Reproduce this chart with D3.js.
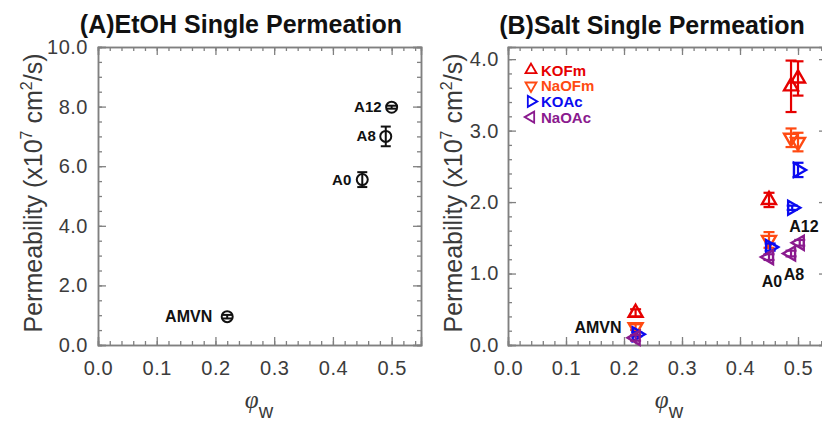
<!DOCTYPE html>
<html>
<head>
<meta charset="utf-8">
<script src="https://cdn.jsdelivr.net/npm/d3@7"></script>
<style>
  html, body { margin: 0; padding: 0; background: #fff; }
  svg { display: block; font-family: "Liberation Sans", Arial, sans-serif; }
</style>
</head>
<body>
<svg id="chart" width="822" height="421"></svg>
<script>
// ---------------- DATA ----------------
// Panel A: EtOH single permeation
const etohLabels = ["AMVN", "A0", "A8", "A12"];
const etohPhi    = [0.22, 0.45, 0.49, 0.50];
const etohPerm   = [0.95, 5.55, 7.00, 7.98];
const etohErr    = [0.06, 0.25, 0.33, 0.05];

// Panel B: Salt single permeation (membranes AMVN, A0, A8, A12)
const saltSeries = ["KOFm", "NaOFm", "KOAc", "NaOAc"];
const kofmPhi  = [0.22, 0.45, 0.488, 0.50];
const kofmPerm = [0.45, 2.03, 3.62, 3.73];
const kofmErr  = [0.05, 0.10, 0.36, 0.24];
const naofmPhi  = [0.22, 0.45, 0.488, 0.50];
const naofmPerm = [0.25, 1.47, 2.90, 2.84];
const naofmErr  = [0.04, 0.11, 0.13, 0.13];
const koacPhi  = [0.222, 0.452, 0.49, 0.50];
const koacPerm = [0.15, 1.37, 1.92, 2.45];
const koacErr  = [0.03, 0.05, 0.03, 0.10];
const naoacPhi  = [0.22, 0.45, 0.488, 0.503];
const naoacPerm = [0.10, 1.23, 1.28, 1.43];
const naoacErr  = [0.04, 0.04, 0.04, 0.04];
const saltMembranes = ["AMVN", "A0", "A8", "A12"];

// Axis ticks
const xTicks = [0.0, 0.1, 0.2, 0.3, 0.4, 0.5];
const yTicksA = [0, 2, 4, 6, 8, 10];
const yTicksB = [0, 1, 2, 3, 4];

// ---------------- STYLE ----------------
const axisColor = "#808080";
const tickTextColor = "#3c3c3c";
const colors = { KOFm: "#e60000", NaOFm: "#ff4a12", KOAc: "#0a0af0", NaOAc: "#8a1a8e" };
const rotations = { KOFm: 0, NaOFm: 180, KOAc: 90, NaOAc: -90 };

const svg = d3.select("#chart");

function triPath(side) {
  const h = side * Math.sqrt(3) / 2;
  return `M0,${-2*h/3} L${side/2},${h/3} L${-side/2},${h/3} Z`;
}

function drawFrame(g, x, y, yTicks, yMinorStep, yPad, yFmt) {
  const [x0, x1] = x.range();
  const [y0, y1] = y.range(); // y0 bottom, y1 top
  const xMinor = d3.range(0, x.domain()[1] + 1e-9, 0.02);
  const yMinor = d3.range(0, y.domain()[1] + 1e-9, yMinorStep);

  const style = sel => {
    sel.select(".domain").attr("stroke", axisColor).attr("stroke-width", 1.5);
    sel.selectAll(".tick line").attr("stroke", axisColor).attr("stroke-width", 1.3);
    sel.selectAll(".tick text").attr("fill", tickTextColor)
      .style("font-size", "20px").style("letter-spacing", "0.5px")
      .style("font-family", "Liberation Sans, Arial, sans-serif");
  };

  // minor ticks
  g.append("g").attr("transform", `translate(0,${y0})`)
    .call(d3.axisBottom(x).tickValues(xMinor).tickSize(-4).tickFormat(""))
    .call(style);
  g.append("g").attr("transform", `translate(0,${y1})`)
    .call(d3.axisTop(x).tickValues(xMinor).tickSize(-4).tickFormat(""))
    .call(style);
  g.append("g").attr("transform", `translate(${x0},0)`)
    .call(d3.axisLeft(y).tickValues(yMinor).tickSize(-4).tickFormat(""))
    .call(style);
  g.append("g").attr("transform", `translate(${x1},0)`)
    .call(d3.axisRight(y).tickValues(yMinor).tickSize(-4).tickFormat(""))
    .call(style);

  // major ticks
  g.append("g").attr("transform", `translate(0,${y0})`)
    .call(d3.axisBottom(x).tickValues(xTicks).tickSize(-8).tickPadding(16).tickFormat(d3.format(".1f")))
    .call(style);
  g.append("g").attr("transform", `translate(0,${y1})`)
    .call(d3.axisTop(x).tickValues(xTicks).tickSize(-8).tickFormat(""))
    .call(style);
  g.append("g").attr("transform", `translate(${x0},0)`)
    .call(d3.axisLeft(y).tickValues(yTicks).tickSize(-8).tickPadding(yPad).tickFormat(yFmt))
    .call(style);
  g.append("g").attr("transform", `translate(${x1},0)`)
    .call(d3.axisRight(y).tickValues(yTicks).tickSize(-8).tickFormat(""))
    .call(style);
}

function yLabel(g, xPos, yCenter) {
  const t = g.append("text")
    .attr("transform", `translate(${xPos},${yCenter}) rotate(-90)`)
    .attr("text-anchor", "middle")
    .attr("fill", "#3a3a3a")
    .style("font-size", "25px");
  t.append("tspan").text("Permeability (x10");
  t.append("tspan").text("7").attr("dy", -10).style("font-size", "16px");
  t.append("tspan").text(" cm").attr("dy", 10);
  t.append("tspan").text("2").attr("dy", -10).style("font-size", "16px");
  t.append("tspan").text("/s)").attr("dy", 10);
}

function xLabel(g, xCenter, yBase) {
  const t = g.append("text")
    .attr("x", xCenter).attr("y", yBase)
    .attr("text-anchor", "middle")
    .attr("fill", "#3a3a3a");
  t.append("tspan").text("φ").style("font-style", "italic").style("font-size", "25px")
    .style("font-family", "Liberation Serif, serif");
  t.append("tspan").text("w").attr("dy", 10).style("font-size", "20px");
}

// ---------------- PANEL A ----------------
const xA = d3.scaleLinear().domain([0, 0.55]).range([98, 421]);
const yA = d3.scaleLinear().domain([0, 10]).range([345, 47]);
const gA = svg.append("g");
drawFrame(gA, xA, yA, yTicksA, 0.5, 10, d3.format(".1f"));

gA.append("text").attr("x", 241).attr("y", 33).attr("text-anchor", "middle")
  .style("font-size", "25px").style("font-weight", "bold").attr("fill", "#111")
  .text("(A)EtOH Single Permeation");
yLabel(gA, 42, 193);
xLabel(gA, 259, 408);

const etoh = etohLabels.map((l, i) => ({ label: l, x: etohPhi[i], y: etohPerm[i], e: etohErr[i] }));
const pA = gA.append("g");
etoh.forEach(d => {
  const cx = xA(d.x), cy = yA(d.y);
  const top = yA(d.y + d.e), bot = yA(d.y - d.e);
  pA.append("line").attr("x1", cx).attr("x2", cx).attr("y1", top).attr("y2", bot)
    .attr("stroke", "#111").attr("stroke-width", 2);
  [top, bot].forEach(yy => pA.append("line").attr("x1", cx - 5).attr("x2", cx + 5)
    .attr("y1", yy).attr("y2", yy).attr("stroke", "#111").attr("stroke-width", 2));
  pA.append("circle").attr("cx", cx).attr("cy", cy).attr("r", 5.5)
    .attr("fill", "none").attr("stroke", "#111").attr("stroke-width", 2);
});
// point labels
const labA = { AMVN: [-15, 5, 16], A0: [-11, 5, 15], A8: [-10, 5, 15], A12: [-10, 5, 15] };
etoh.forEach(d => {
  const o = labA[d.label];
  pA.append("text").attr("x", xA(d.x) + o[0]).attr("y", yA(d.y) + o[1])
    .attr("text-anchor", "end").style("font-weight", "bold").style("font-size", o[2] + "px")
    .attr("fill", "#111").text(d.label);
});

// ---------------- PANEL B ----------------
const xB = d3.scaleLinear().domain([0, 0.55]).range([508, 827]);
const yB = d3.scaleLinear().domain([0, 4.17]).range([345, 47]);
const gB = svg.append("g");
drawFrame(gB, xB, yB, yTicksB, 0.2, 9, d3.format(".1f"));

gB.append("text").attr("x", 652).attr("y", 34).attr("text-anchor", "middle")
  .style("font-size", "25px").style("font-weight", "bold").attr("fill", "#111")
  .text("(B)Salt Single Permeation");
yLabel(gB, 462, 193);
xLabel(gB, 669, 408);

const saltData = {
  KOFm:  { phi: kofmPhi,  perm: kofmPerm,  err: kofmErr },
  NaOFm: { phi: naofmPhi, perm: naofmPerm, err: naofmErr },
  KOAc:  { phi: koacPhi,  perm: koacPerm,  err: koacErr },
  NaOAc: { phi: naoacPhi, perm: naoacPerm, err: naoacErr }
};
const pB = gB.append("g");
saltSeries.forEach(s => {
  const sd = saltData[s];
  sd.phi.forEach((p, i) => {
    const cx = xB(p), cy = yB(sd.perm[i]);
    const top = yB(sd.perm[i] + sd.err[i]), bot = yB(sd.perm[i] - sd.err[i]);
    pB.append("line").attr("x1", cx).attr("x2", cx).attr("y1", top).attr("y2", bot)
      .attr("stroke", colors[s]).attr("stroke-width", 2.2);
    [top, bot].forEach(yy => pB.append("line").attr("x1", cx - 5.5).attr("x2", cx + 5.5)
      .attr("y1", yy).attr("y2", yy).attr("stroke", colors[s]).attr("stroke-width", 2.2));
    pB.append("path").attr("d", triPath(14))
      .attr("transform", `translate(${cx},${cy}) rotate(${rotations[s]})`)
      .attr("fill", "none").attr("stroke", colors[s]).attr("stroke-width", 2.4)
      .attr("stroke-linejoin", "miter");
  });
});
// membrane labels in panel B
const labB = {
  AMVN: { x: 0.22, y: 0.25, dx: -14, dy: 6, anchor: "end", size: 16 },
  A0:   { x: 0.45, y: 1.23, dx: 3,   dy: 30, anchor: "middle", size: 16 },
  A8:   { x: 0.488, y: 1.28, dx: 3,  dy: 26, anchor: "middle", size: 16 },
  A12:  { x: 0.49, y: 1.92, dx: -3,  dy: 24, anchor: "start", size: 16 }
};
saltMembranes.forEach(m => {
  const o = labB[m];
  pB.append("text").attr("x", xB(o.x) + o.dx).attr("y", yB(o.y) + o.dy)
    .attr("text-anchor", o.anchor).style("font-weight", "bold").style("font-size", o.size + "px")
    .attr("fill", "#111").text(m);
});

// legend
const leg = gB.append("g");
saltSeries.forEach((s, i) => {
  const ly = 70 + i * 15.7;
  leg.append("path").attr("d", triPath(11))
    .attr("transform", `translate(531,${ly}) rotate(${rotations[s]})`)
    .attr("fill", "none").attr("stroke", colors[s]).attr("stroke-width", 1.8);
  leg.append("text").attr("x", 541).attr("y", ly + 5.5)
    .style("font-weight", "bold").style("font-size", "15px")
    .attr("fill", colors[s]).text(s);
});
</script>
</body>
</html>
